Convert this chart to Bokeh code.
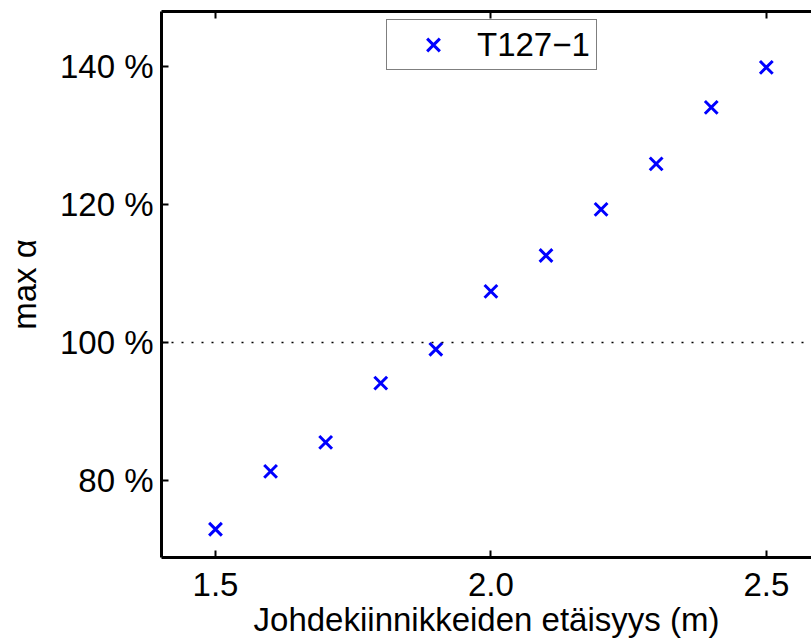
from bokeh.plotting import figure
from bokeh.models import (LinearAxis, FixedTicker, PrintfTickFormatter, NumeralTickFormatter,
                          Span, Legend, LegendItem, Range1d, ColumnDataSource,
                          CustomLabelingPolicy)
from bokeh.embed import file_html
from bokeh.resources import INLINE

# Clip spacing (m) and maximum utilisation (%)
spacing = [1.5, 1.6, 1.7, 1.8, 1.9, 2.0, 2.1, 2.2, 2.3, 2.4, 2.5]
max_alpha = [72.9, 81.3, 85.5, 94.1, 99.0, 107.4, 112.6, 119.3, 125.9, 134.1, 139.9]
series_name = "T127\u22121"
x_ticks = [1.5, 2.0, 2.5]
y_ticks = [80, 100, 120, 140]

FONT = "Liberation Sans"
FS = "33px"

p = figure(width=811, height=643, output_backend="svg", toolbar_location=None,
           x_range=Range1d(1.402, 2.582), y_range=Range1d(68.8, 148.0),
           x_axis_location=None, y_axis_location=None,
           min_border_left=161, min_border_right=0, min_border_top=11, min_border_bottom=86)
p.outline_line_color = None
p.grid.visible = False
p.background_fill_color = "white"
p.border_fill_color = "white"

def style_axis(ax):
    ax.axis_line_width = 3
    ax.axis_line_color = "black"
    ax.major_tick_in = 7
    ax.major_tick_out = 0
    ax.major_tick_line_width = 2
    ax.minor_tick_line_color = None
    ax.major_label_text_font = FONT
    ax.major_label_text_font_size = FS
    ax.major_label_text_color = "black"
    ax.axis_label_text_font = FONT
    ax.axis_label_text_font_size = FS
    ax.axis_label_text_font_style = "normal"
    ax.axis_label_text_color = "black"

xb = LinearAxis(ticker=FixedTicker(ticks=x_ticks), formatter=NumeralTickFormatter(format="0.0"),
                axis_label="Johdekiinnikkeiden etäisyys (m)")
style_axis(xb)
xb.major_label_standoff = 15
xb.axis_label_standoff = 2
p.add_layout(xb, "below")

# top spine with inward ticks, no labels
xt = LinearAxis(ticker=FixedTicker(ticks=x_ticks),
                major_label_policy=CustomLabelingPolicy(code=""))
style_axis(xt)
xt.major_label_text_font_size = "0px"
xt.major_label_standoff = 0
p.add_layout(xt, "above")

yl = LinearAxis(ticker=FixedTicker(ticks=y_ticks), formatter=PrintfTickFormatter(format="%d %%"),
                axis_label="max α")
style_axis(yl)
yl.major_label_standoff = 8
yl.axis_label_standoff = 14
p.add_layout(yl, "left")

# 100 % reference level
p.add_layout(Span(location=100, dimension="width", line_color="black",
                  line_width=1.5, line_dash="2 8"))

src = ColumnDataSource(dict(x=spacing, y=max_alpha))
r = p.scatter("x", "y", source=src, marker="x", size=18, line_color="blue", line_width=3)

legend = Legend(items=[LegendItem(label=series_name, renderers=[r])],
                location=(225, 487), padding=2, spacing=0, margin=0,
                glyph_width=88, glyph_height=45, label_standoff=0, label_width=117,
                label_text_font=FONT, label_text_font_size=FS, label_text_color="black",
                border_line_color="black", border_line_width=1.5,
                background_fill_color="white", background_fill_alpha=1.0)
p.add_layout(legend, "center")

open("out.html", "w").write(file_html(p, INLINE))
